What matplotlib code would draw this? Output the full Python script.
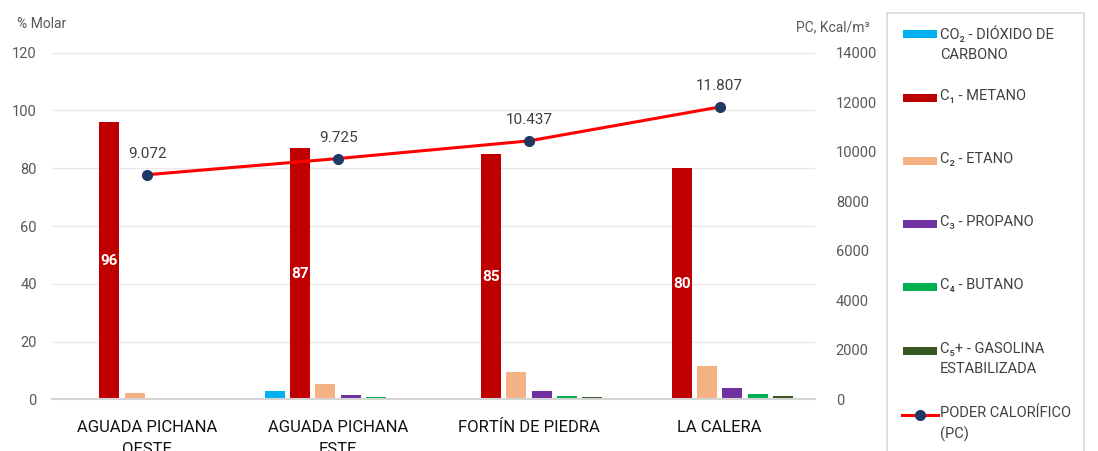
import matplotlib
matplotlib.use("Agg")
import matplotlib.pyplot as plt
from matplotlib.patches import Rectangle
from matplotlib.lines import Line2D
import numpy as np

plt.rcParams['font.family'] = ['Roboto', 'DejaVu Sans']

categories = ["AGUADA PICHANA\nOESTE", "AGUADA PICHANA\nESTE", "FORTÍN DE PIEDRA", "LA CALERA"]
series_names = ["CO₂ - DIÓXIDO DE\nCARBONO", "C₁ - METANO", "C₂ - ETANO", "C₃ - PROPANO",
                "C₄ - BUTANO", "C₅+ - GASOLINA\nESTABILIZADA"]
co2 = [0.5, 3.0, 0.0, 0.0]
c1 = [96, 87, 85, 80]
c2 = [2.1, 5.3, 9.4, 11.4]
c3 = [0.0, 1.5, 3.0, 3.9]
c4 = [0.0, 0.7, 1.2, 1.8]
c5 = [0.0, 0.5, 0.7, 1.0]
pc_values = [9072, 9725, 10437, 11807]
pc_name = "PODER CALORÍFICO\n(PC)"
series = [co2, c1, c2, c3, c4, c5]
colors = ["#00B0F0", "#C00000", "#F4B183", "#7030A0", "#00B050", "#375623"]

W, H = 1098, 451
fig = plt.figure(figsize=(W / 100, H / 100), dpi=100)
ax = fig.add_axes([52 / W, 1 - 399.3 / H, (815 - 52) / W, (399.3 - 52.7) / H])
ax.set_xlim(-0.5, 3.5)
ax.set_ylim(0, 120)
ax.set_yticks(range(0, 121, 20))
ax.grid(axis='y', color='#e8e8e8', lw=1)
ax.set_axisbelow(True)
for s in ['top', 'right', 'left']:
    ax.spines[s].set_visible(False)
ax.spines['bottom'].set_color('#d4d4d4')
ax.spines['bottom'].set_linewidth(1.5)
ax.tick_params(axis='y', length=0, pad=11, labelsize=10.5, labelcolor='#595959')
ax.tick_params(axis='x', length=0, pad=15, labelsize=12, labelcolor='#111111')
x = np.arange(len(categories))
ax.set_xticks(x)
ax.set_xticklabels(categories, linespacing=1.6)

step = 0.1327
bw = 0.105
containers = []
for i, (vals, col) in enumerate(zip(series, colors)):
    c = ax.bar(x + (i - 2.5) * step, vals, width=bw, color=col, zorder=2)
    containers.append(c)
ax.bar_label(containers[1], labels=[f"{v:.0f}" for v in c1], label_type='center',
             color='white', fontsize=11, fontweight='bold')

ax2 = ax.twinx()
ax2.set_ylim(0, 14000)
ax2.set_yticks(range(0, 14001, 2000))
for s in ['top', 'right', 'left', 'bottom']:
    ax2.spines[s].set_visible(False)
ax2.tick_params(axis='y', length=0, pad=15, labelsize=10.5, labelcolor='#595959')
ax2.plot(x, pc_values, color='#FF0000', lw=2.2, marker='o', markersize=7,
         markerfacecolor='#1F3864', markeredgecolor='#1F3864', zorder=5)
for xi, v in zip(x, pc_values):
    ax2.annotate(f"{v:,}".replace(",", "."), xy=(xi, v), xytext=(0, 15),
                 textcoords='offset points', ha='center', va='center',
                 fontsize=11, color='#404040')

fig.text(17 / W, 1 - 24 / H, "% Molar", fontsize=10, color='#595959', va='center', ha='left')
fig.text(796 / W, 1 - 27 / H, "PC, Kcal/m³", fontsize=10, color='#595959', va='center', ha='left')

# manual legend
fig.patches.append(Rectangle((887 / W, -0.1), (1084 - 887) / W, 1 - 13 / H + 0.1,
                             transform=fig.transFigure, facecolor='white',
                             edgecolor='#d9d9d9', lw=1.2))
entry_y = [34, 98, 161, 224, 287, 351, 415]
for yy, name, col in zip(entry_y, series_names, colors):
    fig.patches.append(Rectangle((903 / W, 1 - (yy + 4) / H), 34 / W, 8 / H,
                                 transform=fig.transFigure, facecolor=col, edgecolor='none'))
    fig.text(940 / W, 1 - (yy - 9) / H, name, fontsize=10.5, color='#404040',
             va='top', ha='left', linespacing=1.55)
yy = entry_y[-1]
fig.lines.append(Line2D([902 / W, 938 / W], [1 - yy / H, 1 - yy / H], transform=fig.transFigure,
                        color='#FF0000', lw=2.2))
fig.lines.append(Line2D([920 / W], [1 - yy / H], transform=fig.transFigure, marker='o',
                        markersize=7, color='#1F3864'))
fig.text(940 / W, 1 - (yy - 9) / H, pc_name, fontsize=10.5, color='#404040',
         va='top', ha='left', linespacing=1.55)

fig.savefig("out.png", dpi=100)
